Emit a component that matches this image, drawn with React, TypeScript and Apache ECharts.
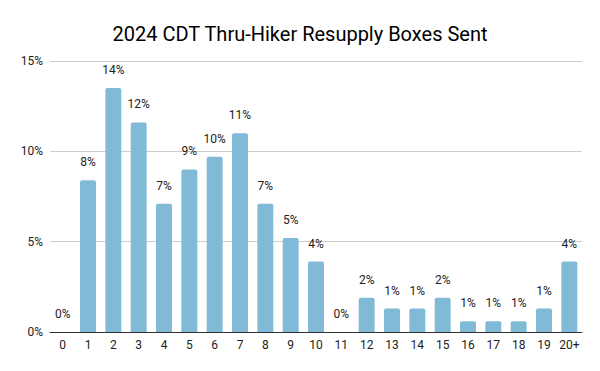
import React, { useEffect, useRef } from "react";
import * as echarts from "echarts";

const categories = ["0","1","2","3","4","5","6","7","8","9","10","11","12","13","14","15","16","17","18","19","20+"];
const shares = [0, 8.4, 13.5, 11.6, 7.1, 9.0, 9.7, 11.0, 7.1, 5.2, 3.9, 0, 1.9, 1.3, 1.3, 1.9, 0.6, 0.6, 0.6, 1.3, 3.9];
const yTicks = [0, 5, 10, 15];

export default function App() {
  const ref = useRef<HTMLDivElement>(null);
  useEffect(() => {
    if (!ref.current) return;
    const chart = echarts.init(ref.current, undefined, { renderer: "svg" });
    chart.setOption({
      animation: false,
      backgroundColor: "#ffffff",
      title: {
        text: "2024 CDT Thru-Hiker Resupply Boxes Sent",
        left: "center",
        top: 19,
        textStyle: { fontFamily: "Roboto", fontSize: 20, fontWeight: "normal", color: "#000000" },
      },
      grid: { left: 50, right: 18, top: 61, bottom: 39, containLabel: false },
      xAxis: {
        type: "category",
        data: categories,
        axisLine: { lineStyle: { color: "#333333", width: 1 } },
        axisTick: { show: false },
        axisLabel: { color: "#222222", fontFamily: "Roboto", fontSize: 12, margin: 7, interval: 0 },
      },
      yAxis: {
        type: "value",
        min: yTicks[0],
        max: yTicks[yTicks.length - 1],
        interval: 5,
        axisLine: { show: false },
        axisTick: { show: false },
        splitLine: { lineStyle: { color: "#cccccc", width: 1 } },
        axisLabel: { color: "#222222", fontFamily: "Roboto", fontSize: 12, margin: 7, formatter: (v: number) => v + "%" },
      },
      series: [
        {
          type: "bar",
          data: shares,
          barWidth: "63%",
          itemStyle: { color: "#80bad6", borderRadius: [2, 2, 0, 0] },
          label: {
            show: true,
            position: "top",
            distance: 12,
            color: "#222222",
            fontFamily: "Roboto",
            fontSize: 12,
            formatter: (p: any) => Math.round(p.value) + "%",
          },
        },
      ],
    });
    return () => chart.dispose();
  }, []);
  return <div ref={ref} style={{ width: 600, height: 371, position: "absolute", left: 0, top: 0 }} />;
}
